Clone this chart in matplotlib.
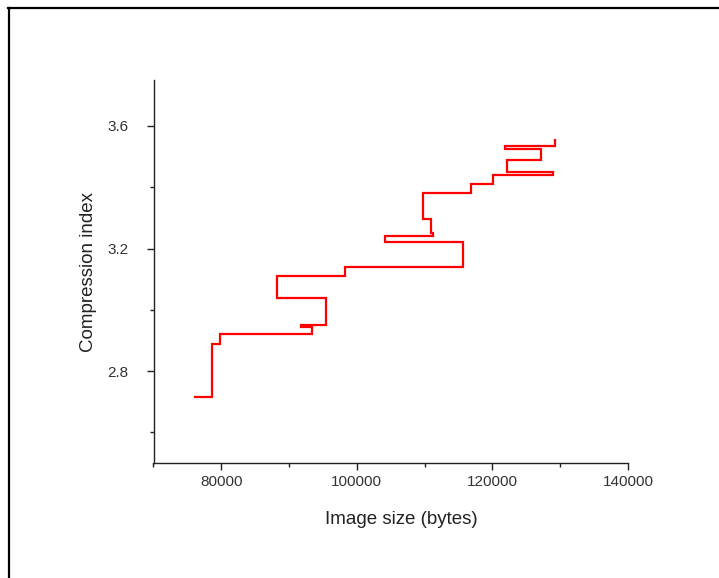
import matplotlib
matplotlib.use("Agg")
import matplotlib.pyplot as plt
from matplotlib.lines import Line2D
from matplotlib.ticker import MultipleLocator

plt.rcParams['font.family'] = ['Liberation Sans', 'DejaVu Sans']

# image size (bytes) and compression index, in plotting order
image_size = [76100, 78600, 79800, 93400, 91700, 95400, 88200, 98300,
              115700, 104100, 111300, 111000, 109800, 116800, 120100,
              128900, 122100, 127200, 121900, 129200]
compression = [2.715, 2.89, 2.922, 2.944, 2.951, 3.04, 3.11, 3.14,
               3.22, 3.24, 3.25, 3.295, 3.38, 3.41, 3.44,
               3.45, 3.49, 3.525, 3.535, 3.555]

x_ticks = [80000, 100000, 120000, 140000]
y_ticks = [2.8, 3.2, 3.6]

W, H = 719, 578
fig = plt.figure(figsize=(W / 100, H / 100), dpi=100)
ax = fig.add_axes([153.5 / W, (H - 463) / H, (628 - 153.5) / W, (463 - 80) / H])

ax.plot(image_size, compression, color='#ff0000', lw=1.6,
        drawstyle='steps-post', solid_joinstyle='miter')

ax.set_xlim(70000, 140000)
ax.set_ylim(2.5, 3.75)
ax.set_xticks(x_ticks)
ax.set_yticks(y_ticks)
ax.xaxis.set_minor_locator(MultipleLocator(10000))
ax.yaxis.set_minor_locator(MultipleLocator(0.2))
ax.set_xticklabels([str(v) for v in x_ticks])

for s in ['top', 'right']:
    ax.spines[s].set_visible(False)
for s in ['left', 'bottom']:
    ax.spines[s].set_linewidth(1.0)
    ax.spines[s].set_color('#222222')

ax.tick_params(which='major', direction='out', length=5, width=1.0,
               labelsize=11, colors='#222222', labelcolor='#333333', pad=4)
ax.tick_params(which='minor', direction='out', length=3, width=1.0,
               colors='#222222')
ax.tick_params(axis='y', which='major', pad=13)

ax.set_xlabel('Image size (bytes)', fontsize=13.5, color='#222222')
ax.set_ylabel('Compression index', fontsize=13.5, color='#222222')
ax.xaxis.set_label_coords(0.522, -0.125)
ax.yaxis.set_label_coords(-0.12, 0.5)

# outer frame (top and left edges only are visible)
fig.add_artist(Line2D([8 / W, 1.0], [1 - 8 / H, 1 - 8 / H],
                      transform=fig.transFigure, color='black', lw=1.6))
fig.add_artist(Line2D([9 / W, 9 / W], [0, 1 - 8 / H],
                      transform=fig.transFigure, color='black', lw=1.6))

fig.savefig('out.png', dpi=100)
